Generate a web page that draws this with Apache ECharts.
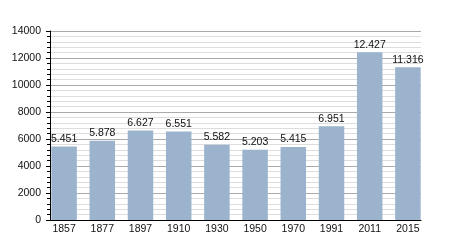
<!DOCTYPE html>
<html><head><meta charset="utf-8">
<script src="https://cdn.jsdelivr.net/npm/echarts@6/dist/echarts.min.js"></script>
<style>html,body{margin:0;padding:0;background:#fff}#c{width:450px;height:250px}</style>
</head><body><div id="c"></div>
<script>
const categories = ["1857","1877","1897","1910","1930","1950","1970","1991","2011","2015"];
const population = [5451,5878,6627,6551,5582,5203,5415,6951,12427,11316];
const yTicks = [0,2000,4000,6000,8000,10000,12000,14000];

const chart = echarts.init(document.getElementById('c'), null, {renderer:'canvas'});
const font = 'Liberation Sans, Arial, sans-serif';
const yMin = yTicks[0], yMax = yTicks[yTicks.length-1];
chart.setOption({
  animation:false,
  grid:[
    {left:50,right:29,top:31,bottom:30,containLabel:false},
    {left:45,right:23,top:31,bottom:30,containLabel:false}
  ],
  xAxis:[
    {gridIndex:0,type:'category',data:categories,
      axisLine:{lineStyle:{color:'#000',width:1}},
      axisTick:{show:false},axisLabel:{show:false},splitLine:{show:false}},
    {gridIndex:1,type:'category',data:categories,
      axisLine:{show:false},axisTick:{show:false},splitLine:{show:false},
      axisLabel:{color:'#111',fontFamily:font,fontSize:10.5,margin:4}}
  ],
  yAxis:[
    {gridIndex:0,type:'value',min:yMin,max:yMax,interval:2000,
      axisLine:{show:true,lineStyle:{color:'#000'}},
      axisTick:{show:true,length:4,lineStyle:{color:'#000'}},
      minorTick:{show:true,splitNumber:5,length:3,lineStyle:{color:'#000'}},
      splitLine:{lineStyle:{color:'#aaa'}},
      minorSplitLine:{show:true,lineStyle:{color:'#ddd'}},
      axisLabel:{color:'#111',fontFamily:font,fontSize:10.5,margin:9,formatter:v=>String(v)}},
    {gridIndex:1,type:'value',min:yMin,max:yMax,interval:2000,show:false,
      splitLine:{show:false}}
  ],
  series:[
    {type:'bar',xAxisIndex:1,yAxisIndex:1,data:population,barWidth:25.5,
      itemStyle:{color:'#9bb3cd'},z:3,
      label:{show:true,position:'top',distance:2,color:'#111',fontFamily:font,fontSize:10.5,
        formatter:p=>{const v=p.value;return Math.floor(v/1000)+'.'+String(v%1000).padStart(3,'0');}}}
  ]
});
</script></body></html>
